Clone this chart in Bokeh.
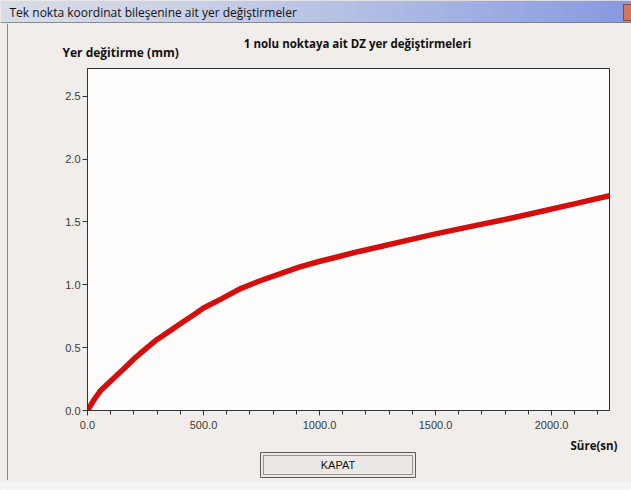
from bokeh.plotting import figure
from bokeh.layouts import column, row
from bokeh.models import Range1d, FixedTicker, NumeralTickFormatter, ColumnDataSource
from bokeh.core.properties import value
from bokeh.embed import file_html
from bokeh.resources import INLINE

# Elapsed time (s) and vertical displacement DZ (mm) of point 1
time_s = [0, 28, 57, 100, 150, 200, 257, 300, 357, 400, 457, 500, 569, 655,
          741, 826, 912, 998, 1084, 1170, 1255, 1382, 1500, 1670, 1815, 1959,
          2103, 2255]
dz_mm = [0.0, 0.085, 0.16, 0.235, 0.32, 0.41, 0.50, 0.565, 0.635, 0.69, 0.76,
         0.815, 0.88, 0.965, 1.03, 1.085, 1.14, 1.185, 1.225, 1.265, 1.30,
         1.355, 1.405, 1.47, 1.525, 1.585, 1.645, 1.71]

x_ticks = [0, 500, 1000, 1500, 2000]
x_minor = list(range(100, 2300, 100))
y_ticks = [0.0, 0.5, 1.0, 1.5, 2.0, 2.5]

window_title = "Tek nokta koordinat bileşenine ait yer değiştirmeler"
chart_title = "1 nolu noktaya ait DZ yer değiştirmeleri"
y_title = "Yer değitirme (mm)"
x_title = "Süre(sn)"
button_text = "KAPAT"

W = 631
BODY = "#f0edea"
UI_FONT = "Open Sans"


def panel(w, h, fill=BODY):
    """A bare canvas whose frame fills it, in top-down pixel coordinates."""
    f = figure(width=w, height=h, output_backend="svg", toolbar_location=None,
               x_range=Range1d(0, w), y_range=Range1d(h, 0),
               x_axis_location=None, y_axis_location=None,
               min_border=0, min_border_left=0, min_border_right=0,
               min_border_top=0, min_border_bottom=0, frame_align=False)
    f.outline_line_color = None
    f.grid.visible = False
    f.background_fill_color = fill
    f.border_fill_color = fill
    return f


def put_text(f, x, y, s, size="11px", bold=False, align="left",
             color="#111111", font=UI_FONT):
    f.text(x=[x], y=[y], text=[s], text_font=value(font),
           text_font_size=value(size),
           text_font_style="bold" if bold else "normal",
           text_align=align, text_baseline="middle", text_color=color)


# --- window title bar -------------------------------------------------------
bar = panel(W, 23)
c0 = (0xd8, 0xdc, 0xe7)
c1 = (0x86, 0x9a, 0xe0)
n = 64
lefts, rights, cols = [], [], []
for i in range(n):
    t = (i / (n - 1)) ** 1.4
    cols.append("#%02x%02x%02x" % tuple(int(a + (b - a) * t) for a, b in zip(c0, c1)))
    lefts.append(W * i / n)
    rights.append(W * (i + 1) / n + 0.5)
bar.quad(left=lefts, right=rights, top=[0] * n, bottom=[22] * n,
         fill_color=cols, line_color=None)
bar.quad(left=[0], right=[W], top=[22], bottom=[23], fill_color="#2c3448",
         line_color=None)
bar.quad(left=[623], right=[W], top=[4], bottom=[20], fill_color="#d4745c",
         line_color="#8a4a3a")
put_text(bar, 9, 11.5, window_title, size="12px")

# --- left window edge --------------------------------------------------------
edge = panel(8, 457)
edge.quad(left=[6.5], right=[7.5], top=[0], bottom=[457], fill_color="#8a8a8a",
          line_color=None)

# --- chart heading strip -----------------------------------------------------
head = panel(623, 44)
put_text(head, 349, 20, chart_title, size="11.5px", bold=True, align="center")
put_text(head, 54, 28.5, y_title, size="12px", bold=True)

# --- main chart ----------------------------------------------------------------
p = figure(width=623, height=369, output_backend="svg", toolbar_location=None,
           x_range=Range1d(0, 2250), y_range=Range1d(0, 2.72),
           min_border_left=79, min_border_right=22, min_border_top=1,
           min_border_bottom=26, frame_align=False)
p.background_fill_color = "#fefdfc"
p.border_fill_color = BODY
p.outline_line_color = "#2a2a2a"
p.grid.visible = False

for ax in (p.xaxis[0], p.yaxis[0]):
    ax.axis_line_color = "#333333"
    ax.major_tick_line_color = "#333333"
    ax.minor_tick_line_color = "#333333"
    ax.major_tick_in = 0
    ax.major_tick_out = 5
    ax.minor_tick_in = 0
    ax.minor_tick_out = 4
    ax.major_label_text_font = "Liberation Sans"
    ax.major_label_text_font_size = "11px"
    ax.major_label_text_color = "#3a3a3a"
    ax.formatter = NumeralTickFormatter(format="0.0")

p.xaxis.ticker = FixedTicker(ticks=x_ticks, minor_ticks=x_minor)
p.yaxis.ticker = FixedTicker(ticks=y_ticks, minor_ticks=[])
p.xaxis.major_label_standoff = 5
p.yaxis.major_label_standoff = 2

src = ColumnDataSource(dict(t=time_s, dz=dz_mm))
p.line("t", "dz", source=src, line_color="#d40d0d", line_width=5.5,
       line_join="round", line_cap="round")

# --- x title and close button ------------------------------------------------
foot = panel(623, 44)
put_text(foot, 609, 9, x_title, size="11.5px", bold=True, align="right")
foot.quad(left=[252], right=[407], top=[16], bottom=[41], fill_color="#ebe8e5",
          line_color="#5a5a5a")
foot.quad(left=[255], right=[404], top=[19], bottom=[38], fill_color=None,
          line_color="#444444", line_dash="1 1")
put_text(foot, 329.5, 28.5, button_text, size="11px", font="Liberation Sans",
         align="center")

# --- bottom strip -------------------------------------------------------------
strip = panel(W, 10, fill="#f6f5f4")

bg = {"background-color": BODY}
inner = column(head, p, foot, spacing=0, styles=bg)
middle = row(edge, inner, spacing=0, styles=bg)
layout = column(bar, middle, strip, spacing=0, styles=bg)

open("out.html", "w").write(file_html(layout, INLINE))
